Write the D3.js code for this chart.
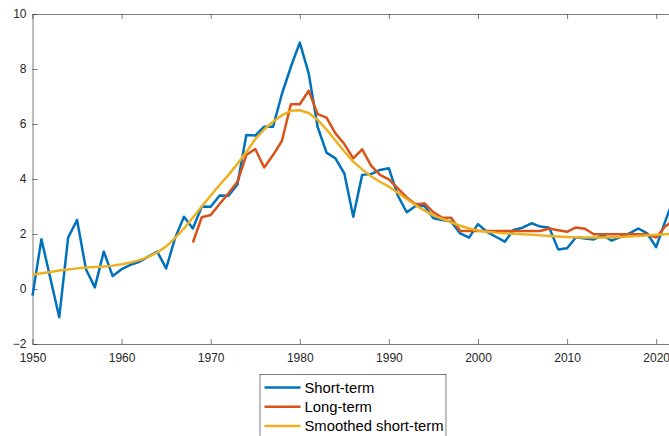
<!DOCTYPE html>
<html>
<head>
<meta charset="utf-8">
<script src="https://d3js.org/d3.v7.min.js"></script>
<style>
    body { margin: 0; overflow: hidden; background: #fff; }
    #chart-area { width: 669px; height: 436px; }
    text { font-family: "Liberation Sans", Arial, Helvetica, sans-serif; }
</style>
</head>
<body>
<div id="chart-area"></div>
<script>
// years on the x axis
let years = [
    1950, 1951, 1952, 1953, 1954, 1955, 1956, 1957, 1958, 1959,
    1960, 1961, 1962, 1963, 1964, 1965, 1966, 1967, 1968, 1969,
    1970, 1971, 1972, 1973, 1974, 1975, 1976, 1977, 1978, 1979,
    1980, 1981, 1982, 1983, 1984, 1985, 1986, 1987, 1988, 1989,
    1990, 1991, 1992, 1993, 1994, 1995, 1996, 1997, 1998, 1999,
    2000, 2001, 2002, 2003, 2004, 2005, 2006, 2007, 2008, 2009,
    2010, 2011, 2012, 2013, 2014, 2015, 2016, 2017, 2018, 2019,
    2020, 2021, 2022
];

let shortTerm = [
    -0.24, 1.81, 0.40, -1.03, 1.87, 2.51, 0.72, 0.06, 1.36, 0.47,
    0.72, 0.88, 0.99, 1.18, 1.36, 0.75, 1.85, 2.63, 2.20, 3.00,
    2.99, 3.40, 3.39, 3.80, 5.60, 5.58, 5.90, 5.90, 7.10, 8.08,
    8.96, 7.84, 5.90, 4.96, 4.75, 4.20, 2.63, 4.15, 4.18, 4.33,
    4.39, 3.40, 2.79, 3.02, 3.02, 2.57, 2.51, 2.45, 2.02, 1.87,
    2.36, 2.08, 1.90, 1.72, 2.15, 2.23, 2.39, 2.27, 2.23, 1.44,
    1.48, 1.88, 1.84, 1.80, 1.96, 1.76, 1.90, 2.02, 2.20, 2.02,
    1.52, 2.45, 3.30
];

let longTerm = [
    null, null, null, null, null, null, null, null, null, null,
    null, null, null, null, null, null, null, null, 1.69, 2.61,
    2.69, 3.09, 3.48, 3.90, 4.87, 5.09, 4.42, 4.87, 5.39, 6.72,
    6.72, 7.21, 6.36, 6.23, 5.66, 5.27, 4.75, 5.08, 4.49, 4.15,
    3.99, 3.66, 3.33, 3.08, 3.11, 2.79, 2.59, 2.59, 2.11, 2.11,
    2.11, 2.11, 2.11, 2.11, 2.11, 2.11, 2.11, 2.11, 2.20, 2.14,
    2.08, 2.24, 2.19, 1.99, 1.99, 1.99, 1.99, 1.99, 1.99, 1.99,
    1.87, 2.27, 2.50
];

let smoothed = [
    0.52, 0.57, 0.62, 0.67, 0.71, 0.75, 0.78, 0.80, 0.82, 0.85,
    0.90, 0.96, 1.05, 1.17, 1.33, 1.55, 1.85, 2.20, 2.60, 3.00,
    3.40, 3.78, 4.15, 4.55, 4.98, 5.45, 5.80, 6.08, 6.32, 6.48,
    6.50, 6.40, 6.15, 5.80, 5.40, 5.00, 4.63, 4.35, 4.10, 3.90,
    3.72, 3.50, 3.27, 3.05, 2.85, 2.68, 2.55, 2.42, 2.30, 2.20,
    2.13, 2.08, 2.05, 2.03, 2.01, 1.99, 1.97, 1.95, 1.93, 1.91,
    1.89, 1.88, 1.87, 1.87, 1.87, 1.88, 1.89, 1.91, 1.93, 1.95,
    1.97, 1.99, 2.01
];

let seriesNames = ["Short-term", "Long-term", "Smoothed short-term"];
let seriesColors = ["#0072BD", "#D95319", "#EDB120"];
let xTicks = [1950, 1960, 1970, 1980, 1990, 2000, 2010, 2020];
let yTicks = [-2, 0, 2, 4, 6, 8, 10];

class LineVis {
    constructor(parentElement) {
        this.parentElement = parentElement;
        this.initVis();
    }

    initVis() {
        let vis = this;

        vis.width = 669;
        vis.height = 436;
        vis.axisColor = "#262626";

        vis.svg = d3.select("#" + vis.parentElement).append("svg")
            .attr("width", vis.width)
            .attr("height", vis.height);

        // plot box (right edge falls just outside the window)
        vis.x = d3.scaleLinear().domain([1950, 2022]).range([32.5, 674]);
        vis.y = d3.scaleLinear().domain([-2, 10]).range([344, 14]);

        vis.series = seriesNames.map((name, i) => ({
            name: name,
            color: seriesColors[i],
            values: years.map((yr, j) => ({year: yr, value: [shortTerm, longTerm, smoothed][i][j]}))
        }));

        vis.wrangleData();
    }

    wrangleData() {
        let vis = this;
        vis.updateVis();
        vis.updateLegend();
    }

    updateVis() {
        let vis = this;
        let x0 = vis.x.range()[0], x1 = vis.x.range()[1];
        let y0 = vis.y.range()[0], y1 = vis.y.range()[1];

        // bottom and left axes, ticks pointing inward
        vis.svg.append("g")
            .attr("class", "x-axis")
            .attr("transform", `translate(0, ${y0})`)
            .call(d3.axisBottom(vis.x).tickValues(xTicks).tickFormat(d3.format("d")).tickSizeInner(-5).tickSizeOuter(0).tickPadding(9));

        vis.svg.append("g")
            .attr("class", "y-axis")
            .attr("transform", `translate(${x0}, 0)`)
            .call(d3.axisLeft(vis.y).tickValues(yTicks).tickSizeInner(-5).tickSizeOuter(0).tickPadding(6));

        // top and right axes without labels (box on)
        vis.svg.append("g")
            .attr("class", "x-axis top")
            .attr("transform", `translate(0, ${y1})`)
            .call(d3.axisTop(vis.x).tickValues(xTicks).tickFormat("").tickSizeInner(-5).tickSizeOuter(0));

        vis.svg.append("g")
            .attr("class", "y-axis right")
            .attr("transform", `translate(${x1}, 0)`)
            .call(d3.axisRight(vis.y).tickValues(yTicks).tickFormat("").tickSizeInner(-5).tickSizeOuter(0));

        vis.svg.selectAll(".x-axis path, .y-axis path, .x-axis line, .y-axis line")
            .attr("stroke", vis.axisColor)
            .attr("stroke-width", 0.6);
        vis.svg.selectAll(".x-axis text, .y-axis text")
            .attr("fill", vis.axisColor)
            .style("font-size", "12px")
            .style("font-family", "'Liberation Sans', Arial, sans-serif");

        let line = d3.line()
            .defined(d => d.value !== null)
            .x(d => vis.x(d.year))
            .y(d => vis.y(d.value));

        vis.svg.selectAll(".series-line")
            .data(vis.series)
            .enter().append("path")
            .attr("class", "series-line")
            .attr("fill", "none")
            .attr("stroke", d => d.color)
            .attr("stroke-width", 2.5)
            .attr("stroke-linejoin", "round")
            .attr("d", d => line(d.values));
    }

    updateLegend() {
        let vis = this;

        vis.legend = vis.svg.append("g")
            .attr("class", "legend")
            .attr("transform", "translate(260, 374.5)");

        vis.legend.append("rect")
            .attr("width", 186)
            .attr("height", 80)
            .attr("fill", "#fff")
            .attr("stroke", vis.axisColor)
            .attr("stroke-width", 0.6);

        let rows = vis.legend.selectAll(".legend-row")
            .data(vis.series)
            .enter().append("g")
            .attr("class", "legend-row")
            .attr("transform", (d, i) => `translate(0, ${13 + i * 19.2})`);

        rows.append("line")
            .attr("x1", 4.5)
            .attr("x2", 40.5)
            .attr("stroke", d => d.color)
            .attr("stroke-width", 2.5);

        rows.append("text")
            .attr("x", 44.5)
            .attr("dy", "0.36em")
            .attr("fill", "#000")
            .style("font-size", "14.8px")
            .text(d => d.name);
    }
}

let lineVis = new LineVis("chart-area");
</script>
</body>
</html>
